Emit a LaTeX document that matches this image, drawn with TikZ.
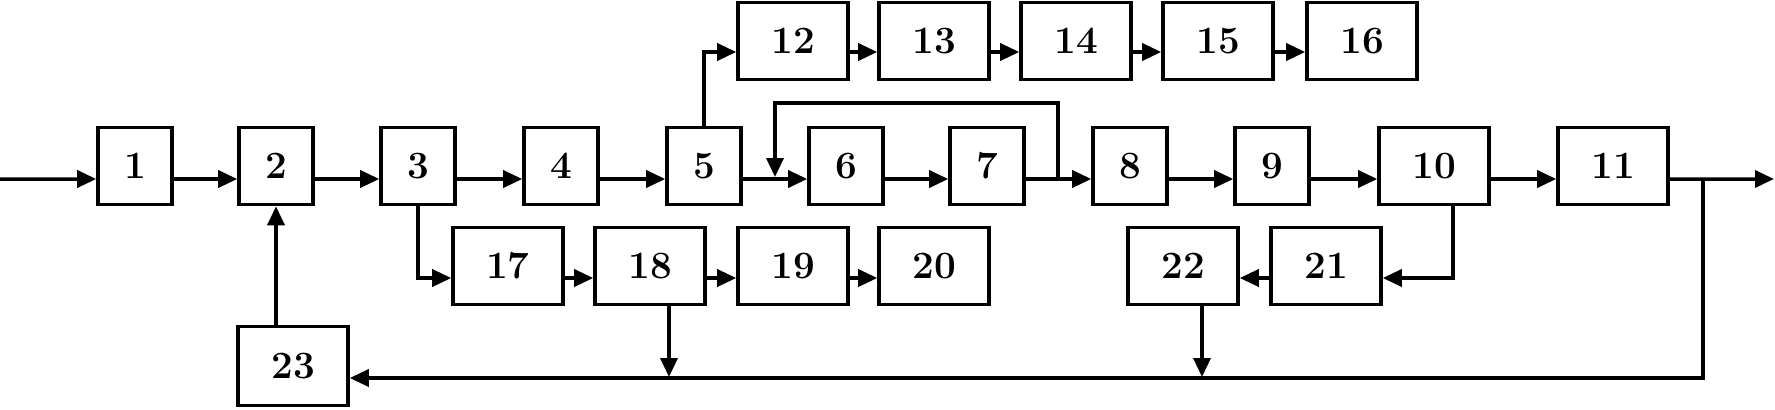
\documentclass[tikz,border=0pt]{standalone}
\usetikzlibrary{arrows.meta}

\tikzset{
  blk/.style={draw, line width=1pt, minimum width=7.4mm, minimum height=7.7mm, inner sep=0pt, font=\bfseries\fontsize{11}{13}\selectfont},
  wblk/.style={blk, minimum width=11mm},
  ar/.style={-{Triangle[length=1.9mm,width=1.7mm]}, line width=1pt},
}

\begin{document}
\begin{tikzpicture}[x=0.1mm, y=-0.1mm]
        \useasboundingbox (0,0) rectangle (1775,409);

        % main row
        \node[blk] (b1) at (135,166) {1};
        \node[blk] (b2) at (276,166) {2};
        \node[blk] (b3) at (418,166) {3};
        \node[blk] (b4) at (561,166) {4};
        \node[blk] (b5) at (704,166) {5};
        \node[blk] (b6) at (846,166) {6};
        \node[blk] (b7) at (987,166) {7};
        \node[blk] (b8) at (1130,166) {8};
        \node[blk] (b9) at (1272,166) {9};
        \node[wblk] (b10) at (1434,166) {10};
        \node[wblk] (b11) at (1613,166) {11};

        % upper row
        \node[wblk] (b12) at (793,41) {12};
        \node[wblk] (b13) at (934,41) {13};
        \node[wblk] (b14) at (1076,41) {14};
        \node[wblk] (b15) at (1218,41) {15};
        \node[wblk] (b16) at (1362,41) {16};

        % lower row
        \node[wblk] (b17) at (508,266) {17};
        \node[wblk] (b18) at (650,266) {18};
        \node[wblk] (b19) at (793,266) {19};
        \node[wblk] (b20) at (934,266) {20};
        \node[wblk] (b22) at (1183,266) {22};
        \node[wblk] (b21) at (1326,266) {21};
        \node[wblk, minimum height=7.9mm] (b23) at (293,366) {23};

        \coordinate (in) at (0,179);
        \coordinate (out) at (1774,179);
        \coordinate (tap) at (1703,179);
        \coordinate (fb) at (1058,179);
        \coordinate (j6) at (775,177);
        \coordinate (j18) at (669,377);
        \coordinate (j22) at (1202,377);

        \draw[ar] (in) -- ([yshift=-1.3mm]b1.west);
        \draw[ar] ([yshift=-1.3mm]b1.east) -- ([yshift=-1.3mm]b2.west);
        \draw[ar] ([yshift=-1.3mm]b2.east) -- ([yshift=-1.3mm]b3.west);
        \draw[ar] ([yshift=-1.3mm]b3.east) -- ([yshift=-1.3mm]b4.west);
        \draw[ar] ([yshift=-1.3mm]b4.east) -- ([yshift=-1.3mm]b5.west);
        \draw[ar] ([yshift=-1.3mm]b5.east) -- ([yshift=-1.3mm]b6.west);
        \draw[ar] ([yshift=-1.3mm]b6.east) -- ([yshift=-1.3mm]b7.west);
        \draw[ar] ([yshift=-1.3mm]b7.east) -- ([yshift=-1.3mm]b8.west);
        \draw[ar] ([yshift=-1.3mm]b8.east) -- ([yshift=-1.3mm]b9.west);
        \draw[ar] ([yshift=-1.3mm]b9.east) -- ([yshift=-1.3mm]b10.west);
        \draw[ar] ([yshift=-1.3mm]b10.east) -- ([yshift=-1.3mm]b11.west);
        \draw[ar] ([yshift=-1.3mm]b11.east) -- (out);

        % loop round 6 and 7
        \draw[ar] (fb) -- ++(0,-76) -| (j6);

        \draw[ar] (b5.north) |- ([yshift=-1.1mm]b12.west);
        \draw[ar] ([yshift=-1.1mm]b12.east) -- ([yshift=-1.1mm]b13.west);
        \draw[ar] ([yshift=-1.1mm]b13.east) -- ([yshift=-1.1mm]b14.west);
        \draw[ar] ([yshift=-1.1mm]b14.east) -- ([yshift=-1.1mm]b15.west);
        \draw[ar] ([yshift=-1.1mm]b15.east) -- ([yshift=-1.1mm]b16.west);

        \draw[ar] (b3.south) |- ([yshift=-1.2mm]b17.west);
        \draw[ar] ([yshift=-1.2mm]b17.east) -- ([yshift=-1.2mm]b18.west);
        \draw[ar] ([yshift=-1.2mm]b18.east) -- ([yshift=-1.2mm]b19.west);
        \draw[ar] ([yshift=-1.2mm]b19.east) -- ([yshift=-1.2mm]b20.west);

        \draw[ar] ([xshift=1.9mm]b10.south) |- ([yshift=-1.2mm]b21.east);
        \draw[ar] ([yshift=-1.2mm]b21.west) -- ([yshift=-1.2mm]b22.east);

        % feedback to 23
        \draw[ar] (tap) |- ([yshift=-1.2mm]b23.east);
        \draw[ar] (b18.south -| j18) -- (j18);
        \draw[ar] (b22.south -| j22) -- (j22);
        \draw[ar] (b23.north -| b2) -- (b2.south);

\end{tikzpicture}
\end{document}
